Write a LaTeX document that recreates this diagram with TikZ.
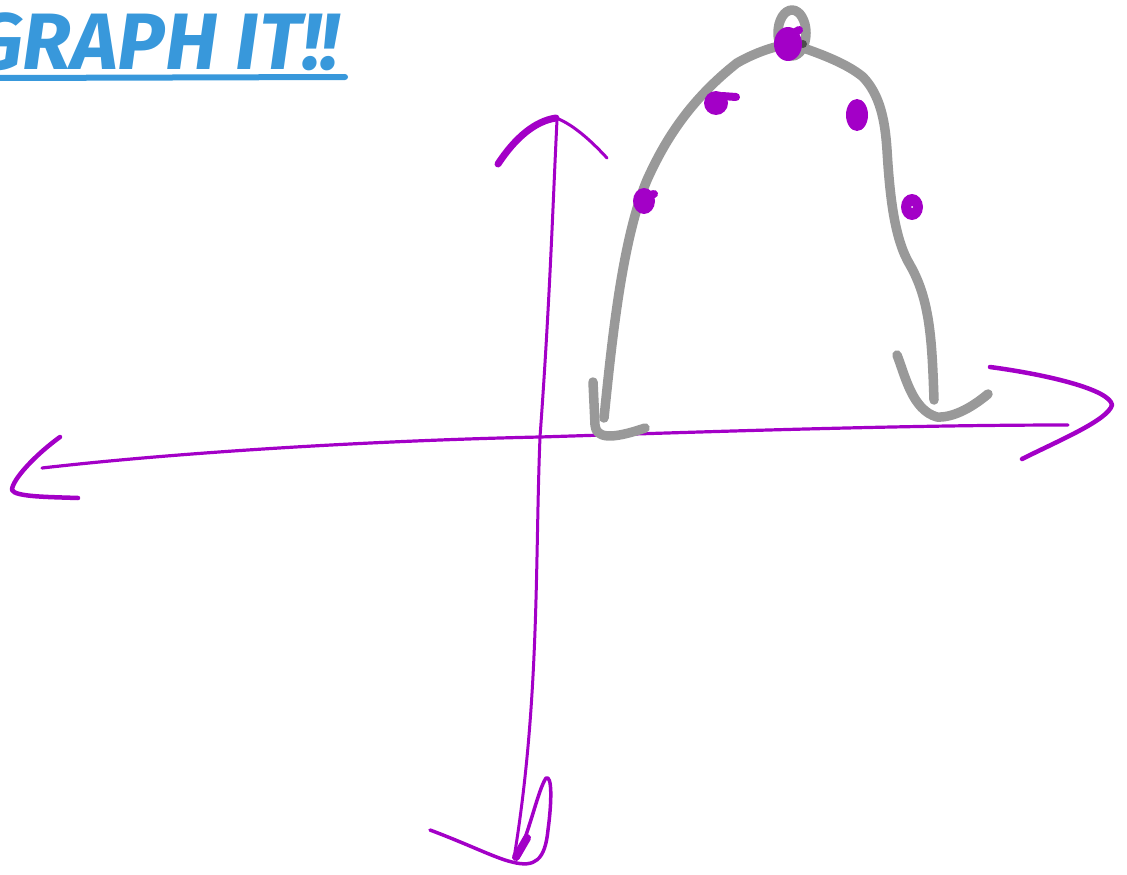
\documentclass[tikz,border=0pt]{standalone}
\usepackage{fontspec}
\setmainfont{Fira Sans}
\usepackage{tikz}
\usetikzlibrary{arrows.meta}
\definecolor{pen}{RGB}{163,0,199}
\definecolor{sky}{RGB}{56,152,219}
\definecolor{graphite}{RGB}{153,153,153}

\begin{document}
\begin{tikzpicture}[x=1pt, y=-1pt, line cap=round, line join=round]
\useasboundingbox (0,0) rectangle (1127,875);

% Titol
\node[sky, anchor=base west, inner sep=0pt, xscale=1.0, font=\fontsize{80}{80}\selectfont\bfseries\itshape]
    (title) at (-28,70) {GRAPH IT!!};
\draw[sky, line width=6pt] (0,78) -- (345,77);

% Eixos
\draw[pen, line width=3.2pt]
    (42,468) .. controls (200,450) and (400,440) .. (540,437)
    .. controls (700,432) and (900,425) .. (1068,425);
\draw[pen, line width=3pt]
    (557,120) .. controls (553,200) and (550,300) .. (540,437)
    .. controls (535,560) and (540,700) .. (514,858);

% Puntes
\draw[pen, line width=4.5pt]
    (60,437) .. controls (35,455) and (12,480) .. (12,490)
    .. controls (15,497) and (50,497) .. (78,498);
\draw[pen, line width=4.5pt]
    (990,367) .. controls (1050,375) and (1110,390) .. (1112,405)
    .. controls (1108,420) and (1060,440) .. (1022,459);
\draw[pen, line width=7pt]
    (498,164) .. controls (515,138) and (535,121) .. (556,118);
\draw[pen, line width=3pt]
    (556,118) .. controls (575,125) and (595,145) .. (607,158);
\draw[pen, line width=3.5pt]
    (430,830) .. controls (470,845) and (495,858) .. (512,862)
    .. controls (535,868) and (545,860) .. (548,830)
    .. controls (552,800) and (552,775) .. (546,778)
    .. controls (538,790) and (530,830) .. (518,855);
\draw[pen, line width=8pt] (516,857) -- (527,838);

% Corba
\draw[graphite, line width=9.5pt]
    (604,418) .. controls (612,340) and (622,240) .. (647,180)
    .. controls (665,140) and (690,100) .. (737,63)
    .. controls (760,50) and (780,45) .. (792,44)
    .. controls (815,52) and (845,62) .. (863,77)
    .. controls (880,95) and (885,120) .. (887,150)
    .. controls (890,200) and (895,240) .. (910,265)
    .. controls (930,300) and (932,340) .. (934,400);
\draw[graphite, line width=9.5pt] (792,33) ellipse [x radius=14, y radius=23];
\fill[black!70] (803,44) circle (4);
\draw[graphite, line width=9.5pt]
    (593,382) -- (595,425) .. controls (596,438) and (610,440) .. (645,428);
\draw[graphite, line width=9.5pt]
    (897,355) .. controls (905,375) and (912,410) .. (937,417)
    .. controls (955,418) and (975,405) .. (988,394);

% Punts
\fill[pen] (644,201) ellipse [x radius=11, y radius=13];
\draw[pen, line width=8pt] (647,196) -- (654,194);
\fill[pen] (716,103) ellipse [x radius=12, y radius=12];
\draw[pen, line width=8pt] (722,96) -- (736,97);
\fill[pen] (788,44) ellipse [x radius=14, y radius=17];
\draw[pen, line width=8pt] (792,34) -- (799,30);
\fill[pen] (857,115) ellipse [x radius=11, y radius=16];
\fill[pen] (912,207) ellipse [x radius=11, y radius=13];
\fill[white] (912,207) circle (1);

\end{tikzpicture}
\end{document}
